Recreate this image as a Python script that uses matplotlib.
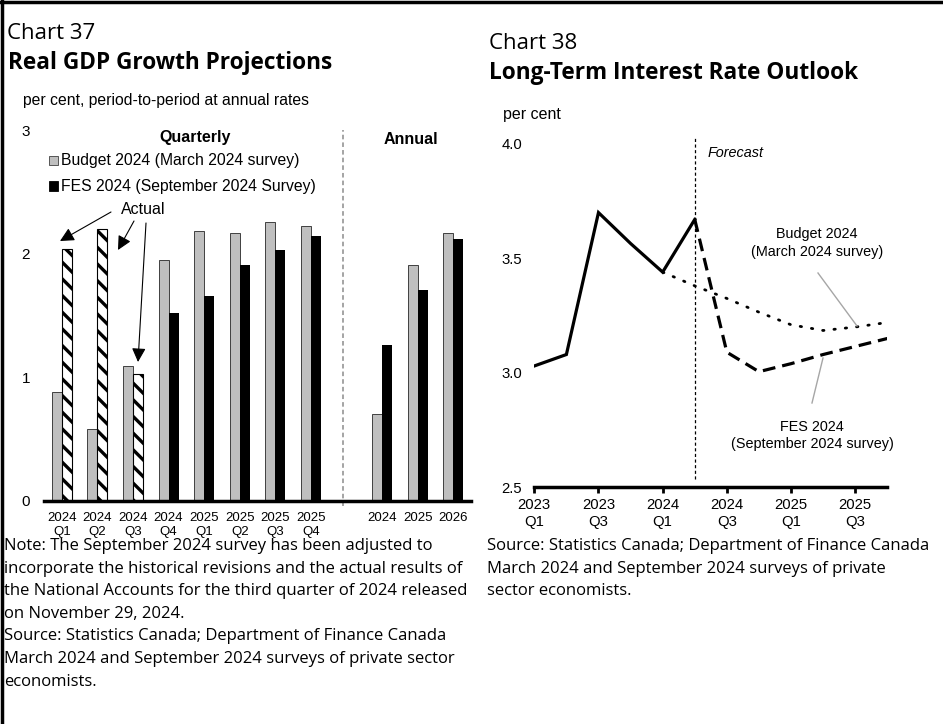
import matplotlib
matplotlib.use("Agg")
import matplotlib.pyplot as plt
import numpy as np
from matplotlib.patches import Rectangle
from matplotlib.lines import Line2D

W, H = 943, 724

# GDP growth, per cent (quarterly at annual rates, then annual)
quarter_labels = ["2024\nQ1", "2024\nQ2", "2024\nQ3", "2024\nQ4",
                  "2025\nQ1", "2025\nQ2", "2025\nQ3", "2025\nQ4"]
year_labels = ["2024", "2025", "2026"]
budget_q = [0.88, 0.58, 1.09, 1.95, 2.18, 2.17, 2.26, 2.22]
fes_q = [2.04, 2.20, 1.03, 1.52, 1.66, 1.91, 2.03, 2.14]
budget_a = [0.70, 1.91, 2.17]
fes_a = [1.26, 1.71, 2.12]
n_actual = 3  # first FES quarters are actual results

# 10-year rate outlook, per cent
rate_quarters = ["2023\nQ1", "2023\nQ2", "2023\nQ3", "2023\nQ4",
                 "2024\nQ1", "2024\nQ2", "2024\nQ3", "2024\nQ4",
                 "2025\nQ1", "2025\nQ2", "2025\nQ3", "2025\nQ4"]
rate_history = [3.03, 3.08, 3.70, 3.565, 3.44, 3.67]
rate_fes = [3.67, 3.09, 3.005, 3.04, 3.08, 3.115, 3.15]
rate_budget = [3.44, 3.38, 3.325, 3.265, 3.21, 3.185, 3.20, 3.22]

plt.rcParams["font.family"] = ["Liberation Sans", "DejaVu Sans"]
plt.rcParams["hatch.linewidth"] = 2.4

fig = plt.figure(figsize=(W / 100, H / 100), dpi=100)


def fpos(x, y):
    return x / W, 1 - y / H


def axes_px(x0, y0, x1, y1):
    return [x0 / W, 1 - y1 / H, (x1 - x0) / W, (y1 - y0) / H]


# ---------------- Chart 37 ----------------
ax1 = fig.add_axes(axes_px(44, 130, 471, 501))
xq = np.arange(len(quarter_labels))
xa = np.arange(len(year_labels)) + len(quarter_labels) + 1
w = 0.28

ax1.bar(xq - w / 2, budget_q, w, color="#BFBFBF", edgecolor="#404040", lw=0.7)
ax1.bar(xq[:n_actual] + w / 2, fes_q[:n_actual], w, facecolor="white",
        edgecolor="black", hatch="\\\\", lw=0.8)
ax1.bar(xq[n_actual:] + w / 2, fes_q[n_actual:], w, color="black")
ax1.bar(xa - w / 2, budget_a, w, color="#BFBFBF", edgecolor="#404040", lw=0.7)
ax1.bar(xa + w / 2, fes_a, w, color="black")

ax1.set_xlim(-0.5, 11.5)
ax1.set_ylim(0, 3)
ax1.set_yticks([0, 1, 2, 3])
ax1.set_yticklabels(["0", "1", "2", "3"])
ax1.set_xticks(np.concatenate([xq, xa]))
ax1.set_xticklabels(quarter_labels + year_labels)
ax1.tick_params(axis="y", length=0, pad=10, labelsize=11)
ax1.tick_params(axis="x", length=0, pad=8, labelsize=9.5)
for s in ["left", "right", "top"]:
    ax1.spines[s].set_visible(False)
ax1.spines["bottom"].set_linewidth(2.5)

ax1.plot([7.9, 7.9], [-0.04, 3.0], color="#8C8C8C", lw=1.1,
         dashes=(3, 2), clip_on=False)

ax1.text(3.75, 2.94, "Quarterly", ha="center", va="center",
         fontsize=11.5, fontweight="bold")
ax1.text(9.8, 2.92, "Annual", ha="center", va="center",
         fontsize=11.5, fontweight="bold")

# legend
for yc, fc, ec, lab in [(160.7, "#BFBFBF", "#404040", "Budget 2024 (March 2024 survey)"),
                        (186.0, "black", "black", "FES 2024 (September 2024 Survey)")]:
    x0, y0 = fpos(49, yc + 4.5)
    fig.add_artist(Rectangle((x0, y0), 9 / W, 9 / H, transform=fig.transFigure,
                             facecolor=fc, edgecolor=ec, lw=0.6))
    fig.text(*fpos(61, yc), lab, ha="left", va="center", fontsize=11.3)

fig.text(*fpos(143.5, 209), "Actual", ha="center", va="center", fontsize=11.5)
arrow = dict(arrowstyle="-|>", color="black", lw=0.8, mutation_scale=21,
             shrinkA=0, shrinkB=0)
for (xt, yt), (xh, yh) in [((111, 212), (60, 241)),
                           ((134, 221), (118, 250)),
                           ((146, 223), (138, 362))]:
    ax1.annotate("", xy=(xh, H - yh), xycoords="figure pixels",
                 xytext=(xt, H - yt), textcoords="figure pixels",
                 arrowprops=arrow)

# ---------------- Chart 38 ----------------
ax2 = fig.add_axes(axes_px(534.3, 143.9, 887.3, 487.3))
xr = np.arange(len(rate_quarters))
ax2.plot(xr[:len(rate_history)], rate_history, color="black", lw=2.3,
         solid_joinstyle="miter")
ax2.plot(xr[len(rate_history) - 1:], rate_fes, color="black", lw=2.3,
         dashes=(4, 2.2))
ax2.plot(xr[4:], rate_budget, color="black", lw=2.0, dashes=(0.5, 3.6),
         dash_capstyle="round")
ax2.plot([5, 5], [2.536, 4.03], color="black", lw=0.9, dashes=(2.5, 2),
         clip_on=False)

ax2.set_xlim(0, 11)
ax2.set_ylim(2.5, 4.0)
ax2.set_yticks([2.5, 3.0, 3.5, 4.0])
ax2.set_yticklabels(["2.5", "3.0", "3.5", "4.0"])
ax2.set_xticks(xr[::2])
ax2.set_xticklabels(rate_quarters[::2])
ax2.tick_params(axis="y", length=0, pad=8.6, labelsize=10.7)
ax2.tick_params(axis="x", length=4, width=2, direction="out", pad=4,
                labelsize=10.7)
for s in ["left", "right", "top"]:
    ax2.spines[s].set_visible(False)
ax2.spines["bottom"].set_linewidth(2.5)

fig.text(*fpos(708, 153), "Forecast", ha="left", va="center", fontsize=10.4,
         style="italic")
fig.text(*fpos(817, 234), "Budget 2024", ha="center", va="center", fontsize=10.4)
fig.text(*fpos(817, 252), "(March 2024 survey)", ha="center", va="center",
         fontsize=10.4)
fig.text(*fpos(812, 427), "FES 2024", ha="center", va="center", fontsize=10.4)
fig.text(*fpos(812, 444), "(September 2024 survey)", ha="center",
         va="center", fontsize=10.4)
for (xa0, ya0), (xa1, ya1) in [((818, 273), (857, 326)),
                               ((812, 403), (823, 358))]:
    fig.add_artist(Line2D([xa0 / W, xa1 / W], [1 - ya0 / H, 1 - ya1 / H],
                          color="#A6A6A6", lw=1.0))

# ---------------- titles, units, notes ----------------
title_font = ["Open Sans", "DejaVu Sans"]
fig.text(*fpos(7, 39), "Chart 37", fontsize=16, family=title_font,
         va="baseline")
fig.text(*fpos(8, 69), "Real GDP Growth Projections", fontsize=16.3,
         family=title_font, fontweight="bold", va="baseline")
fig.text(*fpos(489, 49), "Chart 38", fontsize=16, family=title_font,
         va="baseline")
fig.text(*fpos(489, 79), "Long-Term Interest Rate Outlook", fontsize=16.3,
         family=title_font, fontweight="bold", va="baseline")

fig.text(*fpos(23, 101), "per cent, period-to-period at annual rates",
         fontsize=11.3, va="center")
fig.text(*fpos(503, 115), "per cent", fontsize=11.5, va="center")

left_notes = [
    "Note: The September 2024 survey has been adjusted to",
    "incorporate the historical revisions and the actual results of",
    "the National Accounts for the third quarter of 2024 released",
    "on November 29, 2024.",
    "Source: Statistics Canada; Department of Finance Canada",
    "March 2024 and September 2024 surveys of private sector",
    "economists.",
]
right_notes = [
    "Source: Statistics Canada; Department of Finance Canada",
    "March 2024 and September 2024 surveys of private",
    "sector economists.",
]
for i, line in enumerate(left_notes):
    fig.text(*fpos(4, 546 + i * 22.6), line, fontsize=12.0, family=title_font,
             va="center")
for i, line in enumerate(right_notes):
    fig.text(*fpos(487, 546 + i * 22.6), line, fontsize=12.0,
             family=title_font, va="center")

# frame on the top and left edges
fig.add_artist(Line2D([0, 1], [1 - 1.5 / H, 1 - 1.5 / H], color="black", lw=2.5))
fig.add_artist(Line2D([1.5 / W, 1.5 / W], [0, 1], color="black", lw=2.5))

fig.savefig("out.png", dpi=100)
